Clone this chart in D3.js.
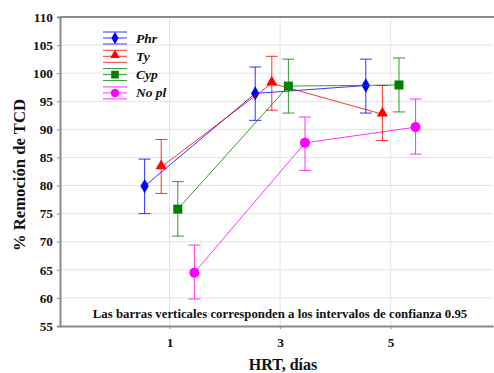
<!DOCTYPE html>
<html>
<head>
<meta charset="utf-8">
<script src="https://cdn.jsdelivr.net/npm/d3@7"></script>
<style>
  body { margin: 0; background: #fff; }
</style>
</head>
<body>
<div id="chart"></div>
<script>
'use strict';

// Chart data
const hrtDays = [1, 3, 5];
const seriesNames = ['Phr', 'Ty', 'Cyp', 'No pl'];
const seriesOffset = [-0.45, -0.15, 0.15, 0.45];
const seriesColor = ['#0000ff', '#ff0000', '#008000', '#ff00ff'];
const seriesShape = ['diamond', 'triangle', 'square', 'circle'];

const meanPhr = [79.9, 96.4, 97.8];
const meanTy = [83.3, 98.2, 92.7];
const meanCyp = [75.8, 97.7, 97.9];
const meanNoPl = [64.5, 87.6, 90.4];

const lowPhr = [75.0, 91.6, 92.9];
const lowTy = [78.6, 93.4, 88.0];
const lowCyp = [71.0, 92.9, 93.1];
const lowNoPl = [59.8, 82.7, 85.6];

const highPhr = [84.7, 101.1, 102.5];
const highTy = [88.2, 103.0, 97.8];
const highCyp = [80.7, 102.5, 102.7];
const highNoPl = [69.4, 92.2, 95.4];

const yTicks = [55, 60, 65, 70, 75, 80, 85, 90, 95, 100, 105, 110];

const means = [meanPhr, meanTy, meanCyp, meanNoPl];
const lows = [lowPhr, lowTy, lowCyp, lowNoPl];
const highs = [highPhr, highTy, highCyp, highNoPl];

const width = 494, height = 373;
const margin = {top: 17, right: 1, bottom: 47, left: 60};
const serif = "'Liberation Serif', serif";

const svg = d3.select('#chart').append('svg')
    .attr('width', width)
    .attr('height', height);

const x = d3.scaleLinear()
    .domain([-0.98, 6.85])
    .range([margin.left, width - margin.right]);

const y = d3.scaleLinear()
    .domain([55, 110])
    .range([height - margin.bottom, margin.top]);

// Grid lines
svg.append('g')
    .selectAll('line.hgrid')
    .data(yTicks)
    .join('line')
    .attr('x1', margin.left).attr('x2', width - margin.right)
    .attr('y1', d => y(d)).attr('y2', d => y(d))
    .attr('stroke', '#e4e4e4')
    .attr('stroke-width', 1);

svg.append('g')
    .selectAll('line.vgrid')
    .data(hrtDays)
    .join('line')
    .attr('x1', d => x(d)).attr('x2', d => x(d))
    .attr('y1', margin.top).attr('y2', height - margin.bottom)
    .attr('stroke', '#e4e4e4')
    .attr('stroke-width', 1);

// Frame
svg.append('line')
    .attr('x1', margin.left).attr('x2', width)
    .attr('y1', y(110)).attr('y2', y(110))
    .attr('stroke', '#8a8a8a').attr('stroke-width', 2);

// Y axis
const yAxis = svg.append('g')
    .attr('transform', `translate(${margin.left},0)`)
    .call(d3.axisLeft(y).tickValues(yTicks).tickSize(3).tickPadding(4));
yAxis.select('.domain').attr('stroke', '#8a8a8a').attr('stroke-width', 2);
yAxis.selectAll('.tick line').attr('stroke', '#8a8a8a');
yAxis.selectAll('.tick text')
    .attr('font-family', serif)
    .attr('font-weight', 'bold')
    .attr('font-size', 13.3)
    .attr('fill', '#111');

// X axis
const xAxis = svg.append('g')
    .attr('transform', `translate(0,${height - margin.bottom})`)
    .call(d3.axisBottom(x).tickValues(hrtDays).tickSize(3).tickPadding(9).tickSizeOuter(0));
xAxis.select('.domain').attr('stroke', '#8a8a8a').attr('stroke-width', 2);
xAxis.selectAll('.tick line').attr('stroke', '#8a8a8a');
xAxis.selectAll('.tick text')
    .attr('font-family', serif)
    .attr('font-weight', 'bold')
    .attr('font-size', 13.3)
    .attr('fill', '#111');

// Axis titles
svg.append('text')
    .attr('x', 283)
    .attr('y', 370)
    .attr('text-anchor', 'middle')
    .attr('font-family', serif)
    .attr('font-weight', 'bold')
    .attr('font-size', 16)
    .attr('fill', '#111')
    .text('HRT, días');

svg.append('text')
    .attr('transform', `translate(25,175) rotate(-90)`)
    .attr('text-anchor', 'middle')
    .attr('font-family', serif)
    .attr('font-weight', 'bold')
    .attr('font-size', 16.7)
    .attr('fill', '#111')
    .text('% Remoción de TCD');

// Note
svg.append('text')
    .attr('x', 280)
    .attr('y', 318)
    .attr('text-anchor', 'middle')
    .attr('font-family', serif)
    .attr('font-weight', 'bold')
    .attr('font-size', 12.8)
    .attr('fill', '#111')
    .text('Las barras verticales corresponden a los intervalos de confianza 0.95');

// Marker helper
function drawMarker(g, shape, cx, cy, color, k = 1) {
    if (shape === 'circle') {
        g.append('circle').attr('cx', cx).attr('cy', cy).attr('r', 5 * k).attr('fill', color);
    } else if (shape === 'square') {
        g.append('rect').attr('x', cx - 4.5 * k).attr('y', cy - 4.5 * k)
            .attr('width', 9 * k).attr('height', 9 * k).attr('fill', color);
    } else {
        const sym = shape === 'diamond' ? d3.symbolDiamond : d3.symbolTriangle;
        const size = (shape === 'diamond' ? 60 : 55) * k * k;
        g.append('path')
            .attr('d', d3.symbol().type(sym).size(size)())
            .attr('transform', `translate(${cx},${cy - (shape === 'triangle' ? 1 : 0)})`)
            .attr('fill', color);
    }
}

const line = d3.line()
    .x(d => x(d.x))
    .y(d => y(d.v));

seriesNames.forEach((name, i) => {
    const color = seriesColor[i];
    const pts = hrtDays.map((d, j) => ({
        x: d + seriesOffset[i], v: means[i][j], lo: lows[i][j], hi: highs[i][j]
    }));
    const g = svg.append('g');

    g.append('path')
        .datum(pts)
        .attr('d', line)
        .attr('fill', 'none')
        .attr('stroke', color)
        .attr('stroke-width', 1)
        .attr('opacity', 0.8);

    // Error bars
    pts.forEach(p => {
        const cx = x(p.x);
        g.append('line')
            .attr('x1', cx).attr('x2', cx)
            .attr('y1', y(p.lo)).attr('y2', y(p.hi))
            .attr('stroke', color).attr('stroke-width', 1).attr('opacity', 0.8);
        [p.lo, p.hi].forEach(v => {
            g.append('line')
                .attr('x1', cx - 6).attr('x2', cx + 6)
                .attr('y1', y(v)).attr('y2', y(v))
                .attr('stroke', color).attr('stroke-width', 1).attr('opacity', 0.8);
        });
    });

    pts.forEach(p => drawMarker(g, seriesShape[i], x(p.x), y(p.v), color));
});

// Legend
const legend = svg.append('g');
seriesNames.forEach((name, i) => {
    const ly = 38 + i * 18.3;
    const color = seriesColor[i];
    const lg = legend.append('g');
    [-6, 0, 6].forEach(dy => {
        lg.append('line')
            .attr('x1', 103).attr('x2', 127)
            .attr('y1', ly + dy).attr('y2', ly + dy)
            .attr('stroke', color).attr('stroke-width', 1).attr('opacity', 0.8);
    });
    drawMarker(lg, seriesShape[i], 115, ly, color, 0.85);
    lg.append('text')
        .attr('x', 136)
        .attr('y', ly + 4.5)
        .attr('font-family', serif)
        .attr('font-weight', 'bold')
        .attr('font-size', 13.5)
        .attr('font-style', 'italic')
        .attr('fill', '#111')
        .text(name);
});
</script>
</body>
</html>
